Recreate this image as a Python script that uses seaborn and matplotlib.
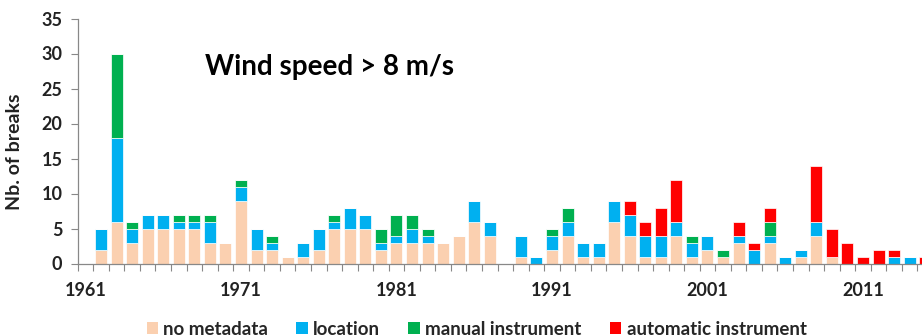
import pandas as pd
import matplotlib.pyplot as plt
from matplotlib.patches import Patch
from matplotlib.ticker import FixedLocator
import seaborn as sns

# Data (number of breaks per year and cause)
YEARS = list(range(1961, 2016))
NO_METADATA = [0, 2, 6, 3, 5, 5, 5, 5, 3, 3,
               9, 2, 2, 1, 1, 2, 5, 5, 5, 2,
               3, 3, 3, 3, 4, 6, 4, 0, 1, 0,
               2, 4, 1, 1, 6, 4, 1, 1, 4, 1,
               2, 1, 3, 0, 3, 0, 1, 4, 1, 0,
               0, 0, 0, 0, 0]
LOCATION = [0, 3, 12, 2, 2, 2, 1, 1, 3, 0,
            2, 3, 1, 0, 2, 3, 1, 3, 2, 1,
            1, 2, 1, 0, 0, 3, 2, 0, 3, 1,
            2, 2, 2, 2, 3, 3, 3, 3, 2, 2,
            2, 0, 1, 2, 1, 1, 1, 2, 0, 0,
            0, 0, 1, 1, 0]
MANUAL = [0, 0, 12, 1, 0, 0, 1, 1, 1, 0,
          1, 0, 1, 0, 0, 0, 1, 0, 0, 2,
          3, 2, 1, 0, 0, 0, 0, 0, 0, 0,
          1, 2, 0, 0, 0, 0, 0, 0, 0, 1,
          0, 1, 0, 0, 2, 0, 0, 0, 0, 0,
          0, 0, 0, 0, 0]
AUTOMATIC = [0, 0, 0, 0, 0, 0, 0, 0, 0, 0,
             0, 0, 0, 0, 0, 0, 0, 0, 0, 0,
             0, 0, 0, 0, 0, 0, 0, 0, 0, 0,
             0, 0, 0, 0, 0, 2, 2, 4, 6, 0,
             0, 0, 2, 1, 2, 0, 0, 8, 4, 3,
             1, 2, 1, 0, 1]
SERIES = ["no metadata", "location", "manual instrument", "automatic instrument"]
COLORS = ["#FBD0B0", "#00B0F0", "#00B050", "#FF0000"]
XTICK_LABELS = ["1961", "1971", "1981", "1991", "2001", "2011"]
YTICKS = [0, 5, 10, 15, 20, 25, 30, 35]

df = pd.DataFrame({
    "year": [str(y) for y in YEARS],
    "no metadata": NO_METADATA,
    "location": LOCATION,
    "manual instrument": MANUAL,
    "automatic instrument": AUTOMATIC,
})
order = df["year"].tolist()

sns.set_theme(style="white")
plt.rcParams["font.family"] = ["Lato", "DejaVu Sans"]
plt.rcParams["font.weight"] = "bold"

fig = plt.figure(figsize=(9.22, 3.35), dpi=100)
ax = fig.add_axes([77.7 / 922, 1 - 263.5 / 335, 55 * 15.55 / 922, 245 / 335])

# stacked bars: one seaborn call per cause, stacked with bottom=
bottom = pd.Series(0, index=df.index)
for name, color in zip(SERIES, COLORS):
    sns.barplot(data=df, x="year", y=name, order=order, color=color,
                bottom=bottom.values, width=0.77, errorbar=None,
                edgecolor="white", linewidth=0.5, saturation=1, ax=ax)
    bottom = bottom + df[name]

ax.set_xlim(-0.5, len(YEARS) - 0.5)
ax.set_ylim(0, 35)
ax.set_yticks(YTICKS)
ax.set_yticklabels([str(v) for v in YTICKS], fontsize=13, fontweight="bold", color="#222222")

pos = [order.index(lbl) for lbl in XTICK_LABELS]
ax.set_xticks(pos)
ax.set_xticklabels(XTICK_LABELS, fontsize=13, fontweight="bold", color="#222222")
ax.xaxis.set_minor_locator(FixedLocator([i - 0.5 for i in range(len(YEARS) + 1)]))
ax.tick_params(axis="x", which="major", length=0, pad=13)
ax.tick_params(axis="x", which="minor", length=5, width=0.8, color="#888888", bottom=True)
ax.tick_params(axis="y", length=5, width=0.8, color="#888888", left=True, pad=6)

for side in ["top", "right"]:
    ax.spines[side].set_visible(False)
for side in ["left", "bottom"]:
    ax.spines[side].set_color("#888888")
    ax.spines[side].set_linewidth(0.9)

ax.set_xlabel("")
ax.set_ylabel("Nb. of breaks", fontsize=14, fontweight="bold", color="#222222")
ax.yaxis.set_label_coords(-0.064, 0.455)

fig.text(205 / 922, 1 - 75 / 335, "Wind speed > 8 m/s", fontsize=20,
         fontweight="bold", color="black", va="baseline", ha="left")

handles = [Patch(facecolor=c, edgecolor="none", label=s) for s, c in zip(SERIES, COLORS)]
fig.legend(handles=handles, loc="center", bbox_to_anchor=(0.517, 0.017), ncol=4,
           frameon=False, handlelength=0.6, handleheight=0.6,
           handletextpad=0.3, columnspacing=1.5, prop={"weight": "bold", "size": 13.5})

fig.savefig("out.png", dpi=100)
